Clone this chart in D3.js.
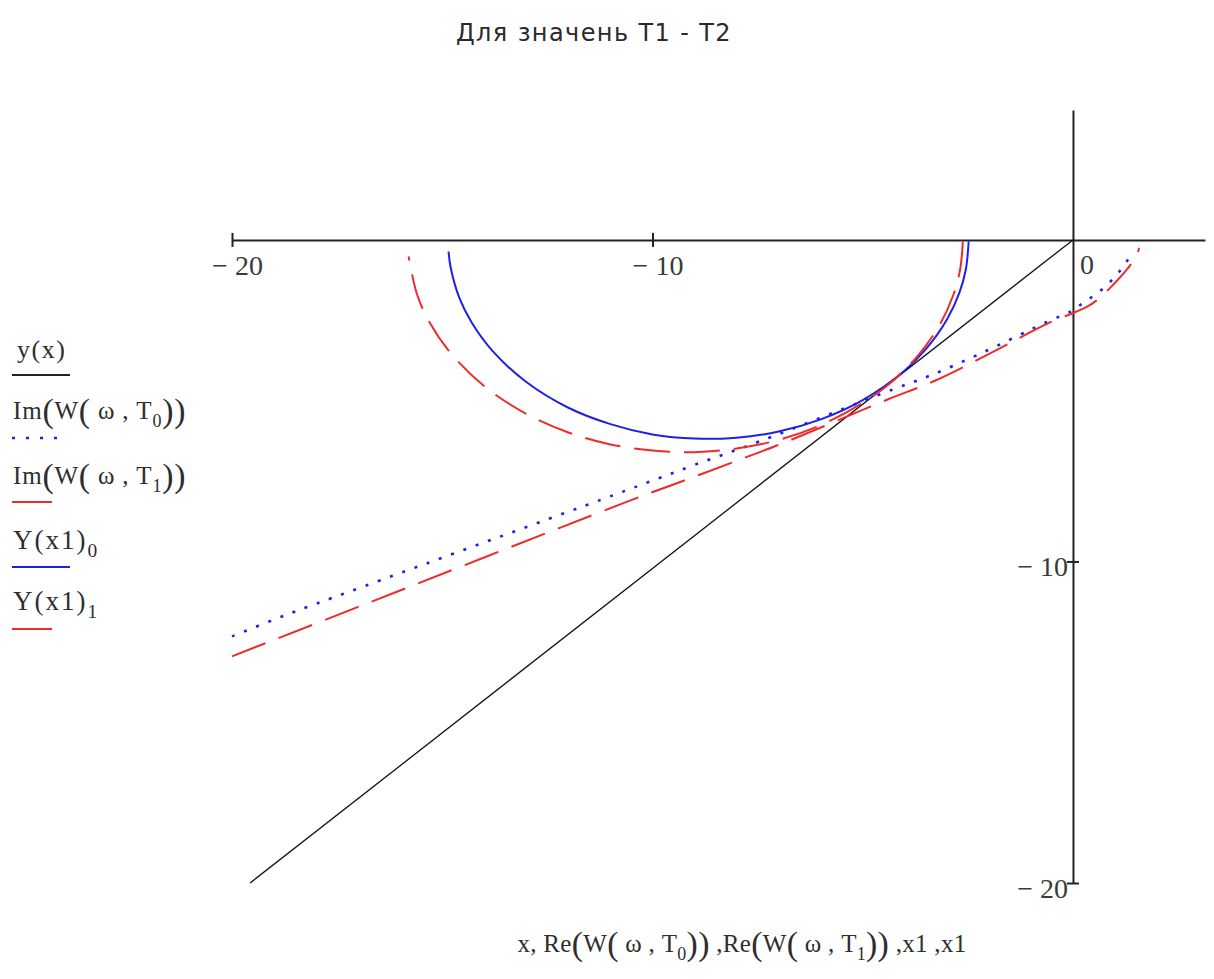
<!DOCTYPE html>
<html>
<head>
<meta charset="utf-8">
<title>Для значень Т1 - Т2</title>
<script src="https://cdn.jsdelivr.net/npm/d3@7/dist/d3.min.js"></script>
<style>
  html, body { margin: 0; padding: 0; background: #fff; }
  svg { display: block; }
</style>
</head>
<body>
<svg id="chart" width="1214" height="979"></svg>
<script>
// ---------- data ----------
const chartTitle = "Для значень Т1 - Т2";
const xTicks = [-20, -10];
const yTicks = [-10, -20];

// y(x): straight reference line
const lineX = [-19.57, 0];
const lineY = [-20.0, 0];

// Nyquist curve W(ω, T0): real and imaginary parts
const reW0 = [-20, -18.81, -17.84, -10.89, -9.11, -7.44, -4.30, -3.40, -2.16, -0.62, -0.02, 0.24, 0.52, 0.81, 1.12, 1.43];
const imW0 = [-12.33, -11.71, -11.24, -7.92, -7.05, -6.26, -4.66, -4.22, -3.51, -2.55, -2.20, -1.96, -1.71, -1.40, -0.96, -0.37];

// Nyquist curve W(ω, T1)
const reW1 = [-20, -17.03, -10.46, -9.18, -7.92, -6.80, -4.42, -3.23, -1.81, -0.62, 0.33, 0.64, 0.95, 1.24, 1.52, 1.57];
const imW1 = [-12.95, -11.43, -8.07, -7.45, -6.83, -6.27, -4.97, -4.35, -3.42, -2.61, -2.08, -1.80, -1.40, -0.99, -0.47, -0.25];

// Y(x1)_0: lower half of the first M-circle
const x1c0 = [-2.48, -2.55, -2.7, -3.0, -3.5, -4.0, -5.0, -6.0, -7.0, -8.0, -9.0, -10.0, -11.0, -12.0, -13.0, -13.8, -14.3, -14.6, -14.8, -14.85];
const yc0  = [-0.05, -0.93, -1.64, -2.48, -3.40, -4.06, -4.98, -5.58, -5.96, -6.15, -6.18, -6.05, -5.73, -5.22, -4.42, -3.46, -2.57, -1.78, -0.86, -0.36];

// Y(x1)_1: lower half of the second M-circle
const x1c1 = [-2.62, -2.68, -2.85, -3.2, -3.7, -4.3, -5.0, -6.0, -7.0, -8.0, -9.0, -10.0, -11.0, -12.0, -13.0, -14.0, -14.8, -15.3, -15.6, -15.8];
const yc1  = [-0.05, -0.89, -1.73, -2.71, -3.62, -4.40, -5.07, -5.76, -6.22, -6.49, -6.60, -6.55, -6.36, -5.99, -5.41, -4.55, -3.52, -2.57, -1.69, -0.51];

// ---------- styles ----------
const BLUE = "#1f1fe6";
const RED = "#ee2a2a";
const INK = "#222";
const SERIF = "'Liberation Serif', 'Times New Roman', serif";
const DASH = "36,14";
const DOT = "3,10";

const svg = d3.select("#chart");

const x = d3.scaleLinear().domain([-20, 3.14]).range([232, 1205]);
const y = d3.scaleLinear().domain([-20, 4.04]).range([883, 110]);

const zip = (a, b) => a.map((v, i) => [v, b[i]]);
const line = d3.line().x(d => x(d[0])).y(d => y(d[1]));
const smooth = d3.line().x(d => x(d[0])).y(d => y(d[1])).curve(d3.curveCatmullRom.alpha(0.5));

// ---------- title ----------
svg.append("text")
  .attr("x", 594).attr("y", 41)
  .attr("text-anchor", "middle")
  .attr("font-family", "'DejaVu Sans', Verdana, sans-serif")
  .attr("font-size", 24)
  .attr("letter-spacing", 1.4)
  .attr("fill", "#2a2a2a")
  .text(chartTitle);

// ---------- axes (crossing at the origin) ----------
const fmt = d => d < 0 ? "\u2212 " + Math.abs(d) : String(d);

const xAxis = svg.append("g")
  .attr("transform", `translate(0,${y(0)})`)
  .call(d3.axisBottom(x).tickValues(xTicks).tickSizeOuter(0).tickFormat(fmt));
xAxis.select(".domain").attr("stroke", INK).attr("stroke-width", 2);
xAxis.selectAll(".tick line").attr("y1", -7).attr("y2", 7).attr("stroke", INK).attr("stroke-width", 2);
xAxis.selectAll(".tick text")
  .attr("y", 35).attr("dy", null).attr("dx", 5)
  .attr("font-family", SERIF).attr("font-size", 28).attr("fill", "#3a3a3a");

const yAxis = svg.append("g")
  .attr("transform", `translate(${x(0)},0)`)
  .call(d3.axisLeft(y).tickValues(yTicks).tickSizeOuter(0).tickFormat(fmt));
yAxis.select(".domain").attr("stroke", INK).attr("stroke-width", 2);
yAxis.selectAll(".tick line").attr("x1", -6).attr("x2", 6).attr("stroke", INK).attr("stroke-width", 2);
yAxis.selectAll(".tick text")
  .attr("x", -5).attr("dy", 14)
  .attr("font-family", SERIF).attr("font-size", 28).attr("fill", "#3a3a3a");

// "0" label to the right of the vertical axis
svg.append("text")
  .attr("x", x(0) + 7).attr("y", y(0) + 34)
  .attr("font-family", SERIF).attr("font-size", 28).attr("fill", "#3a3a3a")
  .text("0");

// ---------- series ----------
const plot = svg.append("g").attr("fill", "none");

plot.append("path").datum(zip(lineX, lineY))
  .attr("d", line).attr("stroke", "#111").attr("stroke-width", 1.3);

plot.append("path").datum(zip(reW0, imW0))
  .attr("d", smooth).attr("stroke", BLUE).attr("stroke-width", 2.6)
  .attr("stroke-dasharray", DOT);

plot.append("path").datum(zip(reW1, imW1))
  .attr("d", smooth).attr("stroke", RED).attr("stroke-width", 2)
  .attr("stroke-dasharray", DASH);

plot.append("path").datum(zip(x1c0, yc0))
  .attr("d", smooth).attr("stroke", BLUE).attr("stroke-width", 2);

plot.append("path").datum(zip(x1c1, yc1))
  .attr("d", smooth).attr("stroke", RED).attr("stroke-width", 2)
  .attr("stroke-dasharray", DASH);

// ---------- rich text helper (subscripts, tall brackets) ----------
function richText(sel, px, py, parts, size, anchor, spacing) {
  const t = sel.append("text")
    .attr("x", px).attr("y", py)
    .attr("font-family", SERIF).attr("font-size", size)
    .attr("fill", "#2e2e2e").attr("text-anchor", anchor || "start")
    .attr("letter-spacing", spacing == null ? 0.8 : spacing);
  let shift = 0;
  parts.forEach(p => {
    let target = 0, fs = size;
    if (p.sub) { target = size * 0.3; fs = size * 0.72; }
    if (p.big) { target = size * 0.1; fs = size * 1.35; }
    t.append("tspan").attr("font-size", fs).attr("dy", target - shift).text(p.t);
    shift = target;
  });
  return t;
}

const imParts = k => [
  { t: "Im" }, { t: "(", big: true }, { t: "W" }, { t: "(", big: true },
  { t: " \u03c9 , T" }, { t: k, sub: true }, { t: ")", big: true }, { t: ")", big: true }
];

// ---------- legend ----------
const legend = svg.append("g");
const legendRows = [
  { parts: [{ t: "y(x)" }], tx: 17, size: 26, sp: 1.5, ty: 358, ly: 375, x2: 70, color: "#222", dash: null, w: 2 },
  { parts: imParts("0"), tx: 13, size: 25, sp: 0.8, ty: 419, ly: 438, x2: 60, color: BLUE, dash: "3,11", w: 2.6 },
  { parts: imParts("1"), tx: 13, size: 25, sp: 0.8, ty: 484, ly: 502, x2: 52, color: RED, dash: null, w: 2 },
  { parts: [{ t: "Y(x1)" }, { t: "0", sub: true }], tx: 13, size: 27, sp: 2, ty: 549, ly: 567, x2: 70, color: BLUE, dash: null, w: 2 },
  { parts: [{ t: "Y(x1)" }, { t: "1", sub: true }], tx: 13, size: 27, sp: 2, ty: 610, ly: 629, x2: 52, color: RED, dash: null, w: 2 }
];
legendRows.forEach(r => {
  richText(legend, r.tx, r.ty, r.parts, r.size, "start", r.sp);
  legend.append("line")
    .attr("x1", 12).attr("x2", r.x2).attr("y1", r.ly).attr("y2", r.ly)
    .attr("stroke", r.color).attr("stroke-width", r.w)
    .attr("stroke-dasharray", r.dash);
});

// ---------- horizontal axis caption ----------
const capParts = [
  { t: "x, Re" }, { t: "(", big: true }, { t: "W" }, { t: "(", big: true },
  { t: " \u03c9 , T" }, { t: "0", sub: true }, { t: ")", big: true }, { t: ")", big: true },
  { t: " ,Re" }, { t: "(", big: true }, { t: "W" }, { t: "(", big: true },
  { t: " \u03c9 , T" }, { t: "1", sub: true }, { t: ")", big: true }, { t: ")", big: true },
  { t: " ,x1 ,x1" }
];
richText(svg, 742, 952, capParts, 25, "middle", 0.3);
</script>
</body>
</html>
